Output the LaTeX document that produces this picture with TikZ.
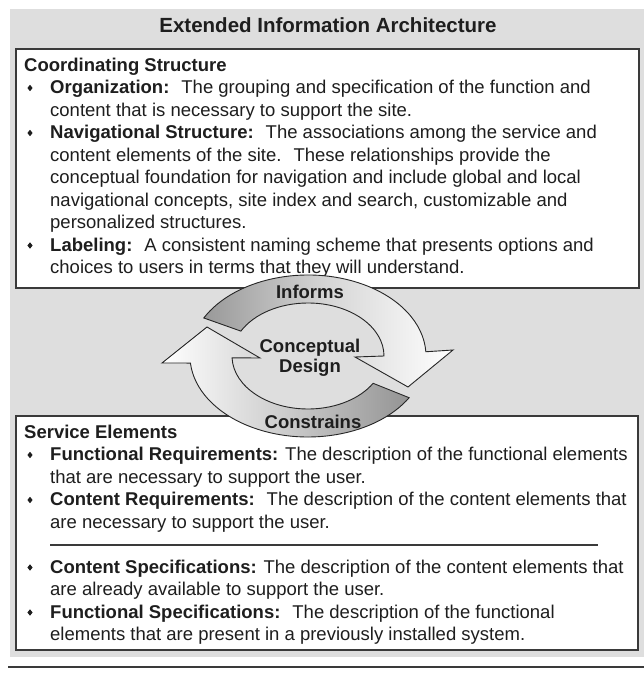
\documentclass[tikz,border=0pt]{standalone}
\usepackage{fontspec}
\setmainfont{Liberation Sans}
\usetikzlibrary{calc}
\definecolor{bggray}{HTML}{DEDEDE}
\definecolor{txtcol}{HTML}{1E1E1E}
\definecolor{edgecol}{HTML}{3A3A3A}
\newcommand\diabul[1]{\fill[txtcol] (30,#1+3.2) -- (32.6,#1) -- (30,#1-3.2) -- (27.4,#1) -- cycle;}
\begin{document}
\begin{tikzpicture}[x=1pt,y=1pt,
  txt/.style={anchor=base west, inner sep=0pt, text=txtcol, font=\fontsize{18.5}{22.5}\selectfont},
  hd/.style={txt, font=\fontsize{18.5}{22.5}\selectfont\bfseries},
  lbl/.style={anchor=base, inner sep=0pt, text=txtcol, font=\fontsize{18.5}{22.5}\selectfont\bfseries},
  panel/.style={draw=edgecol, line width=1.5pt, fill=white, inner sep=0pt},
  ring/.style={draw=black!85, line width=0.9pt}]
\useasboundingbox (0,0) rectangle (644,673);
\fill[white] (0,0) rectangle (644,673);
\fill[bggray] (10,16) rectangle (644,664);
\draw[line width=1.5pt, draw=edgecol] (8,6) -- (644,6);

% title
\node[anchor=base, inner sep=0pt, text=txtcol, font=\fontsize{20.5}{24}\selectfont\bfseries] (title) at (328,640) {Extended Information Architecture};

% panels
\node[panel, minimum width=623pt, minimum height=239pt] (top) at (327.5,504.5) {};
\node[panel, minimum width=622pt, minimum height=234pt] (bot) at (327,140) {};

% top panel text
\node[hd] (h1) at (24,601) {Coordinating Structure};
\diabul{585}
\node[txt] (t1) at (50,579) {\textbf{Organization:}~ The grouping and specification of the function and};
\node[txt] (t2) at (50,556.5) {content that is necessary to support the site.};
\diabul{540}
\node[txt] (t3) at (50,534) {\textbf{Navigational Structure:}~ The associations among the service and};
\node[txt] (t4) at (50,511.5) {content elements of the site.~ These relationships provide the};
\node[txt] (t5) at (50,489) {conceptual foundation for navigation and include global and local};
\node[txt] (t6) at (50,466.5) {navigational concepts, site index and search, customizable and};
\node[txt] (t7) at (50,444) {personalized structures.};
\diabul{427.5}
\node[txt] (t8) at (50,421.5) {\textbf{Labeling:}~ A consistent naming scheme that presents options and};
\node[txt] (t9) at (50,399) {choices to users in terms that they will understand.};

% bottom panel text
\node[hd] (h2) at (24,234) {Service Elements};
\diabul{218}
\node[txt] (s1) at (50,212) {\textbf{Functional Requirements:} The description of the functional elements};
\node[txt] (s2) at (50,189.5) {that are necessary to support the user.};
\diabul{173}
\node[txt] (s3) at (50,167) {\textbf{Content Requirements:}~ The description of the content elements that};
\node[txt] (s4) at (50,144.5) {are necessary to support the user.};
\coordinate (sepL) at (50,128);
\coordinate (sepR) at (598,128);
\draw[line width=1.2pt, draw=edgecol] (sepL) -- (sepR);
\diabul{105.5}
\node[txt] (s5) at (50,99.5) {\textbf{Content Specifications:} The description of the content elements that};
\node[txt] (s6) at (50,77) {are already available to support the user.};
\diabul{60.5}
\node[txt] (s7) at (50,54.5) {\textbf{Functional Specifications:}~ The description of the functional};
\node[txt] (s8) at (50,32) {elements that are present in a previously installed system.};

% cycle
\coordinate (C) at (308,317);
\path[ring, left color=white, right color=black!42, middle color=black!20]
  ($(C)+(-31:118pt and 81pt)$) arc[start angle=-31, end angle=-175, x radius=118pt, y radius=81pt]
  -- (162,310) -- (207,346) -- (260,315)
  -- ($(C)+(-178:76pt and 53pt)$) arc[start angle=-178, end angle=-31, x radius=76pt, y radius=53pt] -- cycle;
\path[ring, left color=black!40, right color=white, middle color=black!16]
  ($(C)+(152:118pt and 81pt)$) arc[start angle=152, end angle=3, x radius=118pt, y radius=81pt]
  -- (453,323) -- (408,286) -- (355,316)
  -- ($(C)+(0:76pt and 53pt)$) arc[start angle=0, end angle=152, x radius=76pt, y radius=53pt] -- cycle;

\node[lbl] (inf) at (310,374.5) {Informs};
\node[lbl] (cd1) at (310,320) {Conceptual};
\node[lbl] (cd2) at (310,300) {Design};
\node[lbl] (con) at (313,244) {Constrains};
\end{tikzpicture}
\end{document}
